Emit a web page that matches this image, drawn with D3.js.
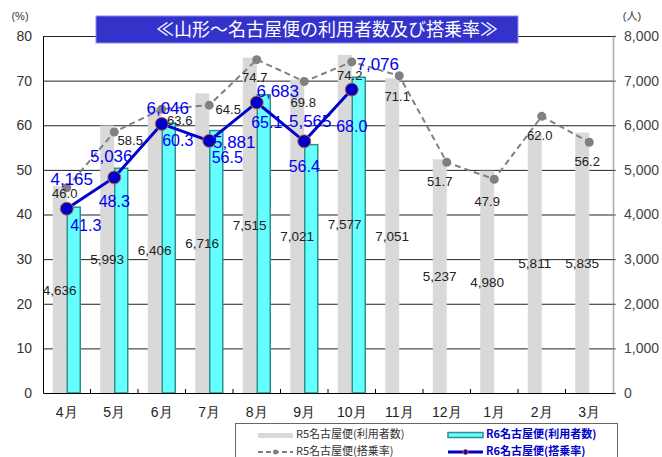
<!DOCTYPE html>
<html><head><meta charset="utf-8">
<script src="https://cdn.jsdelivr.net/npm/d3@7/dist/d3.min.js"></script>
<style>
body{margin:0;background:#fff;}
svg{display:block;font-family:"Liberation Sans","Noto Sans CJK JP",sans-serif;}
</style></head>
<body>
<svg id="c" width="662" height="457"></svg>
<script>
const months = ["4月","5月","6月","7月","8月","9月","10月","11月","12月","1月","2月","3月"];
const r5Passengers = [4636,5993,6406,6716,7515,7021,7577,7051,5237,4980,5811,5835];
const r6Passengers = [4165,5036,6046,5881,6683,5565,7076];
const r5Rate = [46.0,58.5,63.6,64.5,74.7,69.8,74.2,71.1,51.7,47.9,62.0,56.2];
const r6Rate = [41.3,48.3,60.3,56.5,65.1,56.4,68.0];
const leftTicks = [0,10,20,30,40,50,60,70,80];
const rightTicks = [0,1000,2000,3000,4000,5000,6000,7000,8000];
const title = "≪山形～名古屋便の利用者数及び搭乗率≫";
const legendLabels = ["R5名古屋便(利用者数)","R6名古屋便(利用者数)","R5名古屋便(搭乗率)","R6名古屋便(搭乗率)"];

// label placement nudges (presentation only: offsets from each point, in px)
const nudgeR6Pass = [[5,-24],[-3,-15],[6,-10],[25,7],[21,-5],[6,-14],[26,-20]];
const nudgeR6Rate = [[19,22],[0,30],[16,22],[18,22],[10,26],[0,31],[0,42]];
const nudgeR5Rate = [[-2,10],[16,13],[18,16],[19,9],[-2,22],[-1,25],[-2,18],[-2,25],[-7,24],[-7,27],[-2,24],[-2,24]];

const svg = d3.select("#c");
const L = 43, R = 613, T = 36, B = 393;
const x = d3.scaleBand().domain(months).range([L, R]).padding(0);
const yL = d3.scaleLinear().domain([0,80]).range([B,T]);
const yR = d3.scaleLinear().domain([0,8000]).range([B,T]);
const bw = 14;
const cx = m => x(m) + x.bandwidth()/2;
const fmt = d3.format(",");

// gridlines
svg.append("g").attr("transform",`translate(${L},0)`)
  .call(d3.axisLeft(yL).tickValues(leftTicks.slice(1)).tickSize(-(R-L)).tickFormat(""))
  .call(g=>g.select(".domain").remove())
  .call(g=>g.selectAll("line").attr("stroke","#222").attr("stroke-width",1));

// R5 bars
svg.append("g").selectAll("rect").data(r5Passengers).join("rect")
  .attr("x",(d,i)=>cx(months[i])-bw).attr("width",bw)
  .attr("y",d=>yR(d)).attr("height",d=>B-yR(d))
  .attr("fill","#d9d9d9");
// R6 bars
svg.append("g").selectAll("rect").data(r6Passengers).join("rect")
  .attr("x",(d,i)=>cx(months[i])+0.5).attr("width",bw-1)
  .attr("y",d=>yR(d)).attr("height",d=>B-yR(d))
  .attr("fill","#66ffff").attr("stroke","#2f8f8f").attr("stroke-width",1.5);

// axes
svg.append("g").attr("transform",`translate(${L},0)`)
  .call(d3.axisLeft(yL).tickValues(leftTicks).tickSize(0).tickPadding(11))
  .call(g=>g.select(".domain").attr("stroke","#000"))
  .call(g=>g.selectAll("text").attr("font-size",14).attr("fill","#333"));
svg.append("g").attr("transform",`translate(${R},0)`)
  .call(d3.axisRight(yR).tickValues(rightTicks).tickSize(3).tickPadding(8).tickFormat(fmt))
  .call(g=>g.select(".domain").attr("stroke","#aaa").attr("stroke-width",1.5))
  .call(g=>g.selectAll("line").attr("stroke","#555"))
  .call(g=>g.selectAll("text").attr("font-size",14).attr("fill","#444"));
svg.append("g").attr("transform",`translate(0,${B})`)
  .call(d3.axisBottom(x).tickSize(0).tickPadding(14))
  .call(g=>g.select(".domain").attr("stroke","#000").attr("stroke-width",1.2))
  .call(g=>g.selectAll("text").attr("font-size",14).attr("fill","#222"));
// inner category ticks
svg.append("g").selectAll("line").data(months.slice(1)).join("line")
  .attr("x1",d=>x(d)).attr("x2",d=>x(d)).attr("y1",B).attr("y2",B-4)
  .attr("stroke","#000");

svg.append("text").attr("x",20).attr("y",20).attr("font-size",11).attr("fill","#333").attr("text-anchor","middle").text("(%)");
svg.append("text").attr("x",632).attr("y",20).attr("font-size",11).attr("fill","#333").attr("text-anchor","middle").text("(人)");

// R5 passenger labels
svg.append("g").selectAll("text").data(r5Passengers).join("text")
  .attr("x",(d,i)=>cx(months[i])-bw/2).attr("y",d=>(yR(d)+B)/2+5)
  .attr("text-anchor","middle").attr("font-size",13.5).attr("fill","#222")
  .text(d=>fmt(d));

// R5 rate line
const lineR = d3.line().x((d,i)=>cx(months[i])).y(d=>yL(d));
svg.append("path").datum(r5Rate).attr("d",lineR).attr("fill","none")
  .attr("stroke","#808080").attr("stroke-width",2).attr("stroke-dasharray","6,4");
svg.append("g").selectAll("circle").data(r5Rate).join("circle")
  .attr("cx",(d,i)=>cx(months[i])).attr("cy",d=>yL(d)).attr("r",4.5).attr("fill","#808080");
svg.append("g").selectAll("text").data(r5Rate).join("text")
  .attr("x",(d,i)=>cx(months[i])+nudgeR5Rate[i][0]).attr("y",(d,i)=>yL(d)+nudgeR5Rate[i][1])
  .attr("text-anchor","middle").attr("font-size",13).attr("fill","#222")
  .text(d=>d.toFixed(1));

// R6 rate line
svg.append("path").datum(r6Rate).attr("d",lineR).attr("fill","none")
  .attr("stroke","#0000cc").attr("stroke-width",3);
svg.append("g").selectAll("circle").data(r6Rate).join("circle")
  .attr("cx",(d,i)=>cx(months[i])).attr("cy",d=>yL(d)).attr("r",6.5)
  .attr("fill","#0000cc").attr("stroke","#d2691e").attr("stroke-width",1);

// R6 labels
svg.append("g").selectAll("text").data(r6Passengers).join("text")
  .attr("x",(d,i)=>cx(months[i])+nudgeR6Pass[i][0]).attr("y",(d,i)=>yL(r6Rate[i])+nudgeR6Pass[i][1])
  .attr("text-anchor","middle").attr("font-size",17).attr("fill","#0000ee")
  .text(d=>fmt(d));
svg.append("g").selectAll("text").data(r6Rate).join("text")
  .attr("x",(d,i)=>cx(months[i])+nudgeR6Rate[i][0]).attr("y",(d,i)=>yL(d)+nudgeR6Rate[i][1])
  .attr("text-anchor","middle").attr("font-size",16).attr("fill","#0000ee")
  .text(d=>d.toFixed(1));

// title
svg.append("rect").attr("x",96).attr("y",16).attr("width",422).attr("height",27)
  .attr("fill","#3333cc").attr("stroke","#8c8cf0").attr("stroke-width",1);
svg.append("text").attr("x",327).attr("y",36).attr("text-anchor","middle")
  .attr("font-family","Noto Sans CJK JP").attr("font-size",18).attr("fill","#fff").text(title);

// legend
const lg = svg.append("g");
lg.append("rect").attr("x",235.5).attr("y",423.5).attr("width",382).attr("height",40)
  .attr("fill","#fff").attr("stroke","#666");
lg.append("rect").attr("x",258).attr("y",433).attr("width",35).attr("height",5).attr("fill","#d9d9d9");
lg.append("rect").attr("x",448).attr("y",432.5).attr("width",35).attr("height",5).attr("fill","#66ffff").attr("stroke","#2f8f8f").attr("stroke-width",1.5);
lg.append("line").attr("x1",258).attr("x2",293).attr("y1",452).attr("y2",452).attr("stroke","#808080").attr("stroke-width",2).attr("stroke-dasharray","5,3");
lg.append("circle").attr("cx",275.5).attr("cy",452).attr("r",2.5).attr("fill","#808080");
lg.append("line").attr("x1",448).attr("x2",483).attr("y1",452).attr("y2",452).attr("stroke","#0000cc").attr("stroke-width",3);
lg.append("circle").attr("cx",465.5).attr("cy",452).attr("r",2.5).attr("fill","#0000cc").attr("stroke","#d2691e").attr("stroke-width",1);
const lpos = [[296,438,false],[486,438,true],[296,455,false],[486,455,true]];
legendLabels.forEach((t,i)=>{
  lg.append("text").attr("x",lpos[i][0]).attr("y",lpos[i][1])
    .attr("font-family","Noto Sans CJK JP").attr("font-size",11)
    .attr("font-weight",lpos[i][2]?"bold":"normal")
    .attr("fill",lpos[i][2]?"#0000cc":"#333").text(t);
});
</script>
</body></html>
